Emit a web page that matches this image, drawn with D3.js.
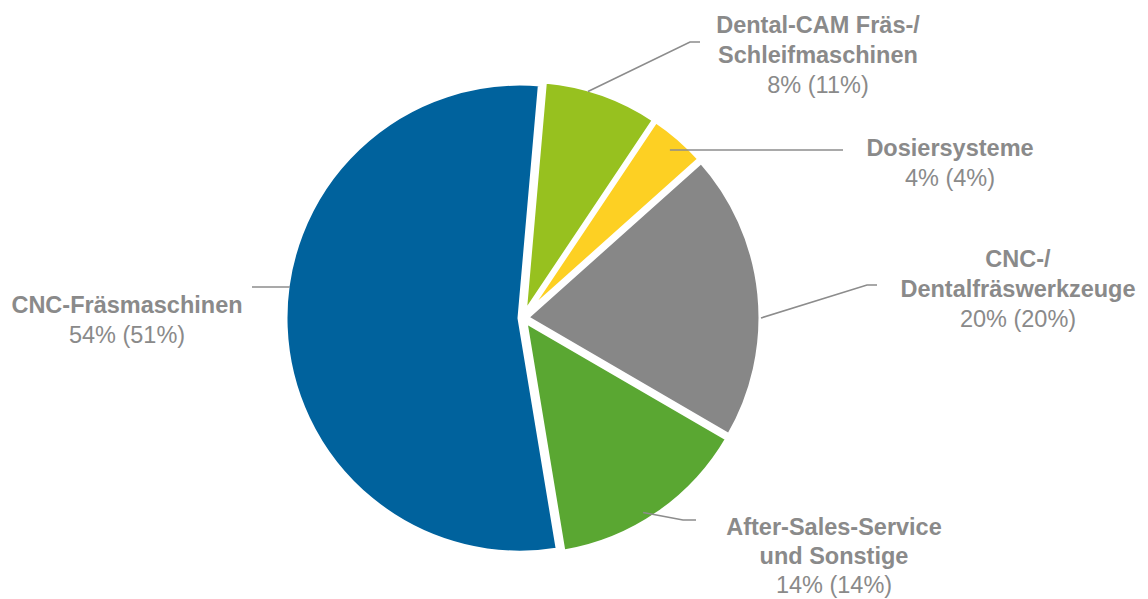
<!DOCTYPE html>
<html><head><meta charset="utf-8">
<script src="https://cdn.jsdelivr.net/npm/d3@7"></script>
<style>html,body{margin:0;padding:0;background:#fff;}svg{display:block;}</style>
</head><body>
<svg id="chart" width="1148" height="599"></svg>
<script>
const categories = ["Dental-CAM Fräs-/ Schleifmaschinen", "Dosiersysteme", "CNC-/ Dentalfräswerkzeuge", "After-Sales-Service und Sonstige", "CNC-Fräsmaschinen"];
const labelLines = [["Dental-CAM Fräs-/", "Schleifmaschinen"], ["Dosiersysteme"], ["CNC-/", "Dentalfräswerkzeuge"], ["After-Sales-Service", "und Sonstige"], ["CNC-Fräsmaschinen"]];
const values = [8, 4, 20, 14, 54];
const prevValues = [11, 4, 20, 14, 51];
const colors = ["#97c11f", "#fdd023", "#878787", "#5aa732", "#00629d"];

const W = 1148, H = 599;
const cx = 523, cy = 318, R = 235, explode = 3;
const startOffset = 5 * Math.PI / 180;
const svg = d3.select("#chart");
const g = svg.append("g").attr("transform", `translate(${cx},${cy})`);

const pie = d3.pie().sort(null).value(d => d)
  .startAngle(startOffset).endAngle(startOffset + 2 * Math.PI);
const arcs = pie(values);
const arc = d3.arc().innerRadius(0).outerRadius(R);

g.selectAll("path.slice").data(arcs).enter().append("path")
  .attr("class", "slice")
  .attr("d", arc)
  .attr("transform", d => {
    const m = (d.startAngle + d.endAngle) / 2;
    return `translate(${explode * Math.sin(m)},${-explode * Math.cos(m)})`;
  })
  .attr("fill", (d, i) => colors[i])
  .attr("stroke", "#fff")
  .attr("stroke-width", 5)
  .attr("stroke-linejoin", "miter");

// label layout (absolute page coordinates); da = anchor angle shift in degrees
const labelPos = [
  {x: 818, y: 33, gap: 30, elbow: [690, 42], end: [700, 42], r: 0.99, da: -3.4},
  {x: 950, y: 156, gap: 30, elbow: null, end: [843, 150], r: 0.94, da: 0},
  {x: 1018, y: 267, gap: 30, elbow: [867, 285], end: [877, 285], r: 1.0, da: 5.8},
  {x: 834, y: 535, gap: 29, elbow: [683, 520], end: [696, 520], r: 0.96, da: 2.9},
  {x: 127, y: 313, gap: 30, elbow: null, end: [252, 287], r: 0.98, da: 0}
];

const lineGen = d3.line();
arcs.forEach((a, i) => {
  const lp = labelPos[i];
  const mid = (a.startAngle + a.endAngle) / 2 + lp.da * Math.PI / 180;
  const rr = R * lp.r + explode;
  let sx = cx + rr * Math.sin(mid);
  let sy = cy - rr * Math.cos(mid);
  const pts = [[sx, sy]];
  if (lp.elbow) pts.push(lp.elbow);
  else { sy = lp.end[1]; pts[0] = [sx, sy]; }
  pts.push(lp.end);
  svg.append("path").attr("d", lineGen(pts))
    .attr("fill", "none").attr("stroke", "#8c8c8c").attr("stroke-width", 1.6);

  const t = svg.append("text")
    .attr("text-anchor", "middle")
    .attr("font-family", "'Liberation Sans', Arial, sans-serif")
    .attr("font-size", 23.5)
    .attr("fill", "#8a8a8a");
  const lines = labelLines[i];
  lines.forEach((ln, k) => {
    t.append("tspan").attr("x", lp.x).attr("y", lp.y + k * lp.gap)
      .attr("font-weight", "bold").text(ln);
  });
  t.append("tspan").attr("x", lp.x).attr("y", lp.y + lines.length * lp.gap)
    .text(`${values[i]}% (${prevValues[i]}%)`);
});
</script>
</body></html>
